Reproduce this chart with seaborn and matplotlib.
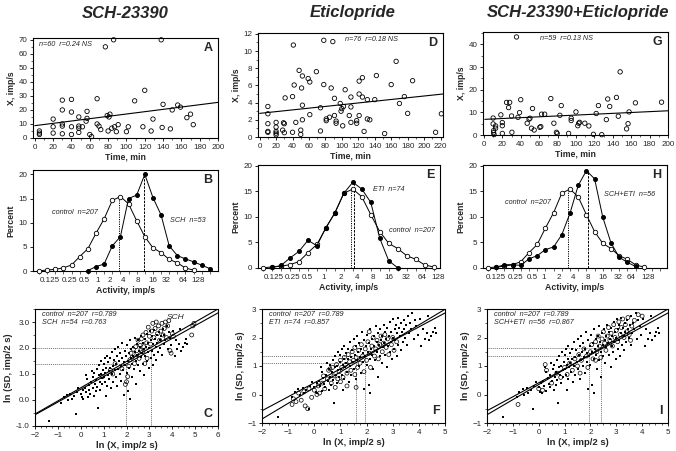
import numpy as np
import pandas as pd
import seaborn as sns
import matplotlib.pyplot as plt
from matplotlib.ticker import MultipleLocator, FixedLocator, FormatStrFormatter, NullFormatter
import matplotlib.transforms as mtrans

sns.set_theme(style="ticks")
plt.rcParams['font.family'] = ['Liberation Sans', 'DejaVu Sans']

# ---------------- row 1: firing rate vs time ----------------
time_A = [5, 5, 5, 20, 20, 20, 30, 30, 30, 30, 30, 40, 40, 40, 40, 48, 48, 48, 48, 52,
          56, 57, 57, 60, 62, 68, 68, 70, 72, 77, 79, 80, 81, 82, 84, 86, 87, 89, 91, 100,
          102, 109, 118, 120, 127, 129, 138, 139, 140, 148, 150, 156, 159, 166, 170, 173]
rate_A = [5, 3.5, 2.5, 13.5, 8, 3.5, 27, 20, 10, 8.5, 3, 27.5, 18.5, 8, 2.5, 15, 8.5, 7, 4, 8,
          12, 14, 19, 2.5, 1, 28, 10, 8.5, 6, 65, 16, 5, 15, 17, 7, 70, 8, 4.5, 9.5, 4.5,
          8, 26.5, 8, 34, 5, 13.5, 70, 7.5, 24, 6.5, 20, 23.5, 22, 14.5, 17, 9.5]
fit_A = (8.8, 0.083)

time_D = [10, 10, 10, 10, 10, 20, 20, 20, 20, 20, 28, 29, 30, 30, 31, 40, 40, 41, 42, 44,
          48, 50, 50, 51, 52, 52, 52, 59, 61, 61, 69, 74, 74, 78, 78, 81, 81, 85, 87, 89,
          91, 91, 93, 93, 98, 99, 100, 101, 102, 104, 109, 111, 111, 111, 118, 118, 121, 121, 121, 125,
          125, 127, 131, 131, 134, 140, 142, 152, 160, 166, 170, 176, 180, 186, 214, 221]
rate_D = [3.55, 2.7, 1.55, 0.65, 0.55, 1.7, 1.15, 0.65, 0.45, 0.25, 0.8, 1.65, 1.55, 0.5, 4.55, 0.55, 4.7, 10.7, 6.05, 1.7,
          7.75, 0.8, 0.3, 5.7, 2.0, 7.1, 3.7, 6.8, 6.4, 2.6, 7.6, 3.4, 0.7, 6.1, 11.25, 2.1, 1.9, 2.3, 5.7, 11.1,
          4.5, 2.5, 1.6, 1.85, 3.9, 3.0, 3.3, 1.3, 3.55, 5.5, 2.5, 4.65, 3.5, 1.7, 1.9, 1.6, 5.0, 2.5, 6.5, 4.65,
          6.9, 0.65, 4.35, 2.1, 2.0, 4.35, 7.15, 0.4, 6.1, 8.8, 3.9, 4.7, 2.75, 6.55, 0.55, 2.7]
fit_D = (2.75, 0.0101)

time_G = [10, 10, 10.5, 10.5, 11, 12.7, 12.7, 18.4, 20, 20, 20, 24.6, 26.8, 28, 30, 30.4, 35.4, 37, 38.7, 40,
          47, 49, 50, 51.7, 52.8, 54.6, 60.7, 61.8, 62.6, 66, 72.7, 76, 78.8, 79.6, 82.5, 84, 92, 94.8, 94.8, 100,
          102, 103, 104, 109.6, 114, 119, 122, 124.4, 128, 133, 134.5, 136.7, 144, 146, 148, 155, 156.6, 157.7, 164.6, 193]
rate_G = [7.5, 4.9, 1.9, 1.0, 0.2, 3.0, 4.0, 8.9, 5.5, 4.1, 0.7, 14.4, 12.1, 14.4, 8.4, 1.2, 43.3, 7.8, 9.9, 15.6,
          5.2, 7.0, 7.4, 3.0, 11.7, 2.2, 3.4, 3.7, 9.2, 9.2, 16.1, 5.2, 1.2, 0.7, 8.7, 13.0, 0.7, 7.4, 6.4, 10.2,
          4.1, 5.2, 5.6, 5.2, 4.0, 0.3, 9.5, 13.0, 0.15, 6.8, 15.9, 12.6, 16.6, 8.3, 27.9, 2.7, 5.0, 10.2, 14.2, 14.5]
fit_G = (6.9, 0.019)

# ---------------- row 2: activity distributions ----------------
# bin centres on a log2 (imp/s) axis
bins_log2 = [-3.74, -3.19, -2.64, -2.09, -1.54, -0.99, -0.44, 0.11, 0.66, 1.21, 1.76,
             2.31, 2.86, 3.41, 3.96, 4.51, 5.06, 5.61, 6.16, 6.71, 7.26, 7.81]
act_ticks = [-3, -2, -1, 0, 1, 2, 3, 4, 5, 6, 7]
act_labels = ['0.125', '0.25', '0.5', '1', '2', '4', '8', '16', '32', '64', '128']

control_pct = [0.05, 0.2, 0.35, 0.65, 1.25, 3.0, 4.6, 7.8, 10.8, 14.6,
               15.4, 13.9, 10.4, 7.1, 4.8, 3.8, 2.4, 1.7, 0.6, 0.2]
sch_first = 6
sch_pct = [0.1, 0.9, 1.45, 5.2, 7.1, 15.0, 15.7, 20.0, 15.2, 11.6, 5.2, 3.2, 2.5, 1.9, 1.2, 0.5]
eti_first = 1
eti_pct = [0.1, 0.5, 1.95, 3.25, 5.4, 4.35, 7.9, 10.7, 14.6, 16.75, 15.4, 12.8, 5.8, 1.4, 0.05]
se_first = 1
se_pct = [0.15, 0.65, 0.65, 0.5, 1.8, 2.4, 3.6, 4.1, 6.5, 10.7, 16.1, 19.0, 17.4, 9.9, 4.9, 2.1, 1.1, 0.3]

# median markers: (log2 position, height)
med_B = [(1.65, 15.3), (3.36, 20.0)]
med_E = [(1.62, 15.2), (1.82, 16.7)]
med_H = [(1.65, 15.2), (2.97, 19.0)]

# ---------------- row 3: ln SD vs ln X ----------------
ctrl_lnx = [-1.38, -0.85, -0.75, -0.62, -0.55, -0.45, -0.40, -0.30, -0.22, -0.18,
            -0.10, 0.00, 0.05, 0.10, 0.12, 0.18, 0.22, 0.25, 0.28, 0.30, 0.35, 0.38, 0.42, 0.45, 0.48,
            0.52, 0.55, 0.58, 0.60, 0.62, 0.65, 0.68, 0.70, 0.72, 0.75, 0.78, 0.80, 0.82, 0.85, 0.88, 0.90, 0.92, 0.95, 0.98,
            1.00, 1.02, 1.05, 1.05, 1.08, 1.10, 1.12, 1.15, 1.15, 1.18, 1.20, 1.22, 1.25, 1.28, 1.30, 1.32, 1.35, 1.38, 1.40, 1.42, 1.45, 1.48,
            1.50, 1.52, 1.55, 1.58, 1.60, 1.62, 1.65, 1.68, 1.70, 1.72, 1.75, 1.78, 1.80, 1.82, 1.85, 1.88, 1.90, 1.92, 1.95, 1.98,
            2.00, 2.02, 2.05, 2.08, 2.10, 2.12, 2.15, 2.15, 2.18, 2.20, 2.22, 2.25, 2.28, 2.30, 2.32, 2.35, 2.38, 2.40, 2.42, 2.45, 2.48,
            2.50, 2.52, 2.55, 2.58, 2.60, 2.62, 2.65, 2.68, 2.70, 2.72, 2.75, 2.78, 2.80, 2.82, 2.85, 2.88, 2.90, 2.92, 2.95, 2.98,
            3.00, 3.02, 3.05, 3.08, 3.10, 3.12, 3.15, 3.18, 3.20, 3.22, 3.25, 3.28, 3.30, 3.32, 3.35, 3.38, 3.42, 3.45, 3.48,
            3.52, 3.55, 3.58, 3.62, 3.65, 3.70, 3.75, 3.80, 3.85, 3.90, 3.95, 4.05, 4.10, 4.15, 4.22, 4.30, 4.35, 4.40, 4.48, 4.55, 4.62, 4.65]
ctrl_lnsd = [-0.80, -0.10, 0.10, 0.18, 0.00, 0.22, 0.05, 0.15, -0.52, 0.30,
             0.45, 0.25, 0.10, 0.40, 0.05, 0.48, 0.30, 0.95, 0.80, 0.12, 0.58, 0.38, 0.25, 0.70, 1.10,
             0.48, 0.90, 0.15, 1.05, 0.62, 0.35, 0.78, 1.20, 0.50, -0.30, 0.95, 1.35, 0.70, 0.40, 1.00, 1.50, 0.85, 0.60, 1.15,
             1.40, 0.90, 0.70, 1.60, 1.05, 0.15, 1.25, 0.55, 1.70, 0.95, 1.45, 1.10, 0.80, 1.60, 1.25, 0.45, 1.00, 1.85, 1.30, 0.70, 1.55, 1.15,
             1.95, 0.90, 1.40, 1.70, 0.55, 1.20, 2.05, 1.50, 1.00, 1.80, 1.30, 0.75, 1.60, 2.20, 1.15, 1.45, 0.20, 1.90, 1.35, 1.70,
             1.05, 2.10, 1.50, 0.35, 1.80, 1.25, 0.05, 2.30, 1.60, 1.95, 1.40, 0.90, 2.05, 1.70, 1.20, 2.40, 1.85, 1.50, 0.60, 2.15, 1.75,
             1.35, 2.30, 1.90, 1.10, 2.05, 1.65, 2.45, 1.80, 1.40, 2.20, 1.95, 0.95, 2.35, 1.70, 2.05, 1.50, 2.55, 1.85, 2.20, 1.25,
             2.00, 2.65, 1.60, 2.30, 1.90, 2.45, 1.35, 2.15, 2.70, 1.75, 2.35, 2.05, 1.55, 2.50, 2.20, 1.85, 2.60, 2.30, 2.00,
             2.45, 1.75, 2.75, 2.15, 2.50, 2.30, 2.85, 1.95, 2.60, 2.40, 2.10, 2.65, 1.70, 2.30, 1.95, 2.15, 2.75, 1.90, 2.05, 2.20, 2.35, 2.15]

sch_lnx = [1.95, 2.00, 2.05, 2.10, 2.15, 2.20, 2.25, 2.30, 2.35, 2.40, 2.45, 2.50, 2.55, 2.60, 2.62, 2.65, 2.70, 2.72,
           2.75, 2.80, 2.85, 2.88, 2.90, 2.95, 3.00, 3.05, 3.10, 3.15, 3.20, 3.25, 3.30, 3.35, 3.40, 3.45, 3.50, 3.55,
           3.60, 3.65, 3.70, 3.75, 3.80, 3.85, 3.90, 3.95, 4.00, 4.05, 4.85, 4.90, 4.95, 1.50, 1.40, 1.30, 1.80, 0.95]
sch_lnsd = [0.60, 0.70, 0.90, 1.30, 1.55, 1.80, 1.65, 1.95, 1.40, 2.05, 1.75, 2.30, 1.60, 2.10, 1.90, 2.35, 1.85, 2.50,
            2.05, 1.40, 2.60, 2.20, 1.60, 2.80, 2.45, 2.15, 2.65, 2.95, 2.40, 2.75, 3.00, 2.55, 2.85, 2.30, 2.65, 2.95,
            2.50, 2.75, 3.00, 2.40, 2.85, 3.05, 1.90, 1.80, 2.55, 2.45, 2.50, 2.85, 2.95, 1.40, 1.00, 1.15, 1.20, 0.90]

eti_lnx = [-0.85, -0.80, -0.70, -0.60, -0.50, -0.40, -0.35, -0.25, -0.20, -0.10, 0.00, 0.10, 0.15, 0.20, 0.30, 0.40,
           0.50, 0.55, 0.65, 0.70, 0.75, 0.80, 0.85, 0.90, 0.95, 1.00, 1.05, 1.10, 1.15, 1.20, 1.25, 1.30, 1.35, 1.40,
           1.45, 1.50, 1.55, 1.55, 1.60, 1.65, 1.70, 1.75, 1.80, 1.85, 1.90, 1.95, 2.00, 2.05, 2.10, 2.15, 2.20, 2.25,
           2.30, 2.35, 2.40, 2.45, 2.50, 2.55, 2.60, 2.65, 2.70, 2.75, 2.80, 2.85, 2.95, 3.00, 3.05, 3.15, 1.25, 1.60,
           0.60, 1.00, 0.35, 2.10]
eti_lnsd = [-0.35, -0.15, -0.25, 0.05, -0.20, 0.10, -0.40, -0.50, 0.20, -0.10, 0.15, 0.00, 0.30, 0.05, 0.40, 0.20,
            0.55, 0.85, 0.40, 0.95, 0.65, 0.25, 1.05, 0.55, 0.80, 1.20, 0.95, 0.60, 1.30, 1.05, 0.75, 1.40, 1.15, 0.85,
            1.50, 1.20, 0.70, 1.65, 1.30, 0.95, 1.55, 1.10, 1.75, 1.35, 0.80, 1.60, 1.20, 1.85, 1.45, 0.95, 1.70, 2.00,
            1.35, 1.60, 1.90, 1.25, 1.75, 2.05, 1.50, 1.80, 2.10, 1.65, 1.95, 1.40, 1.75, 2.00, 1.55, 1.85, 0.30, 0.25,
            0.90, 0.45, 0.65, 2.20]

se_lnx = [-0.80, 0.00, 0.15, 0.25, 0.30, 0.50, 0.70, 0.85, 1.00, 1.10, 1.20, 1.30, 1.40, 1.50, 1.55, 1.65, 1.75, 1.85,
          1.90, 2.00, 2.05, 2.10, 2.20, 2.25, 2.30, 2.35, 2.40, 2.45, 2.50, 2.55, 2.60, 2.65, 2.70, 2.75, 2.80, 2.85,
          2.90, 2.95, 3.00, 3.05, 3.10, 3.15, 3.20, 3.25, 3.30, 3.35, 3.40, 3.45, 3.50, 3.55, 3.60, 3.70, 3.85, 4.00,
          2.20, 1.60]
se_lnsd = [-0.35, 0.20, 0.15, 1.05, 0.85, 0.40, 0.75, 0.60, 0.95, 0.70, 1.10, 0.85, 1.25, 1.00, 1.40, 1.20, 1.60, 1.35,
           0.95, 1.50, 1.75, 1.25, 1.85, 1.50, 2.05, 1.70, 1.30, 1.95, 2.20, 1.80, 1.55, 2.05, 2.35, 1.90, 2.15, 1.70,
           2.45, 2.00, 2.25, 1.85, 2.55, 2.10, 2.35, 2.65, 2.00, 2.45, 2.20, 2.70, 2.10, 1.90, 2.40, 2.60, 2.80, 2.75,
           1.20, 0.75]

# regression lines (intercept, slope) and median ln X for each group
fit_ctrl = (0.41, 0.49)
fit_sch = (0.47, 0.505)
fit_eti = (0.24, 0.55)
fit_se = (0.35, 0.53)
med_ctrl_C, med_sch = 1.98, 3.05
med_ctrl_F, med_eti = 1.93, 1.59
med_ctrl_I, med_se = 1.95, 2.39

W, H = 676, 451
fig = plt.figure(figsize=(W / 100, H / 100), dpi=100)


def add_ax(l, t, r, b):
    ax = fig.add_axes([l / W, 1 - b / H, (r - l) / W, (b - t) / H])
    for s in ax.spines.values():
        s.set_linewidth(0.8)
        s.set_color('black')
    ax.tick_params(labelsize=5.8, length=2.5, width=0.6, pad=1.5, direction='out', color='black')
    ax.tick_params(which='minor', length=1.5, width=0.5)
    return ax


def tag(ax, x, y, s, ha='left', va='top', size=5.2):
    ax.text(x, y, s, transform=ax.transAxes, ha=ha, va=va, fontsize=size, style='italic')


def letter(ax, s, y=0.96, va='top'):
    ax.text(0.97, y, s, transform=ax.transAxes, ha='right', va=va, fontsize=9, fontweight='bold')


def time_panel(ax, t, r, fit, xlim, ylim, xmaj, ymaj, ymin, xticks_max, txt, tx, let):
    sns.scatterplot(x=t, y=r, ax=ax, marker='o', s=10, facecolors='none', edgecolor='black',
                    linewidth=0.6, clip_on=False, zorder=3)
    xs = [xlim[0] + 2, xlim[1]]
    sns.lineplot(x=xs, y=[fit[0] + fit[1] * v for v in xs], ax=ax, color='black', lw=0.8)
    ax.set_xlim(*xlim)
    ax.set_ylim(*ylim)
    ax.xaxis.set_major_locator(FixedLocator(list(range(0, xticks_max + 1, xmaj))))
    ax.xaxis.set_minor_locator(MultipleLocator(10))
    ax.yaxis.set_major_locator(MultipleLocator(ymaj))
    ax.yaxis.set_minor_locator(MultipleLocator(ymin))
    ax.set_xlabel('Time, min', fontsize=6.3, fontweight='bold', labelpad=1.5)
    ax.set_ylabel('X, imp/s', fontsize=6.3, fontweight='bold', labelpad=2)
    tag(ax, tx, 0.97, txt)
    letter(ax, let)


def hist_panel(ax, xlim, ylim, trt_first, trt_pct, meds, labels, let, shifts):
    sns.lineplot(x=bins_log2[:len(control_pct)], y=control_pct, ax=ax, color='black', lw=0.7,
                 marker='o', markersize=3.2, markerfacecolor='white', markeredgecolor='black',
                 markeredgewidth=0.6, clip_on=False, zorder=3)
    sns.lineplot(x=bins_log2[trt_first:trt_first + len(trt_pct)], y=trt_pct, ax=ax, color='black',
                 lw=0.7, marker='o', markersize=2.8, markerfacecolor='black', markeredgecolor='black',
                 clip_on=False, zorder=4)
    for (xm, hm), ls in zip(meds, [(0, (1.2, 1.2)), (0, (2.5, 1.2))]):
        ax.plot([xm, xm], [0, hm], color='black', lw=0.7, linestyle=ls, zorder=2)
    ax.set_xlim(*xlim)
    ax.set_ylim(*ylim)
    ax.set_xticks(act_ticks)
    ax.set_xticklabels(act_labels)
    ax.tick_params(axis='x', which='major', length=0, pad=4)
    ax.xaxis.set_minor_locator(FixedLocator(bins_log2))
    ax.tick_params(axis='x', which='minor', length=2.2, width=0.5)
    ax.yaxis.set_major_locator(MultipleLocator(5))
    ax.set_xlabel('Activity, imp/s', fontsize=6.3, fontweight='bold', labelpad=1.5)
    ax.set_ylabel('Percent', fontsize=6.3, fontweight='bold', labelpad=2)
    # nudge the crowded low-activity labels apart, as in the original
    for lab, dx in zip(ax.get_xticklabels(), shifts):
        if dx:
            lab.set_transform(lab.get_transform() + mtrans.ScaledTranslation(dx / 100, 0, fig.dpi_scale_trans))
    for x, y, s in labels:
        tag(ax, x, y, s, va='center')
    letter(ax, let)


def ln_panel(ax, xlim, ylim, trt_x, trt_y, fit_trt, med_c, med_t, lines_txt, let, fmt=None):
    sns.scatterplot(x=ctrl_lnx, y=ctrl_lnsd, ax=ax, marker='s', s=3, color='black', linewidth=0, zorder=3)
    sns.scatterplot(x=trt_x, y=trt_y, ax=ax, marker='o', s=8, facecolors='none', edgecolor='black',
                    linewidth=0.5, zorder=3)
    xs = list(xlim)
    for a, b in [fit_ctrl, fit_trt]:
        sns.lineplot(x=xs, y=[a + b * v for v in xs], ax=ax, color='black', lw=0.8, zorder=4)
    for xm, (a, b) in [(med_c, fit_ctrl), (med_t, fit_trt)]:
        ym = a + b * xm
        ax.plot([xlim[0], xm], [ym, ym], color='0.45', lw=0.7, linestyle=(0, (1, 1)), zorder=2)
        ax.plot([xm, xm], [ylim[0], ym], color='0.45', lw=0.7, linestyle=(0, (1, 1)), zorder=2)
    ax.set_xlim(*xlim)
    ax.set_ylim(*ylim)
    ax.xaxis.set_major_locator(MultipleLocator(1))
    ax.xaxis.set_minor_locator(MultipleLocator(0.25))
    ax.yaxis.set_major_locator(MultipleLocator(1))
    ax.yaxis.set_minor_locator(MultipleLocator(0.5))
    if fmt:
        ax.yaxis.set_major_formatter(FormatStrFormatter(fmt))
    ax.set_xlabel('ln (X, imp/2 s)', fontsize=6.8, fontweight='bold', labelpad=1.5)
    ax.set_ylabel('ln (SD, imp/2 s)', fontsize=6.8, fontweight='bold', labelpad=2)
    tag(ax, 0.04, 0.985, lines_txt[0])
    tag(ax, 0.04, 0.915, lines_txt[1])
    letter(ax, let, y=0.05, va='bottom')


# titles
for x, s in [(125, 'SCH-23390'), (353, 'Eticlopride'), (578, 'SCH-23390+Eticlopride')]:
    fig.text(x / W, 1 - 13 / H, s, ha='center', va='center', fontsize=12, fontweight='bold', style='italic')

axA = add_ax(33, 38, 218, 138)
time_panel(axA, time_A, rate_A, fit_A, (-2, 200), (0, 71.3), 20, 10, 5, 200, 'n=60  r=0.24 NS', 0.03, 'A')
axD = add_ax(258, 33, 443, 137)
time_panel(axD, time_D, rate_D, fit_D, (-2, 223), (0, 12.1), 20, 2, 1, 220, 'n=76  r=0.18 NS', 0.47, 'D')
axG = add_ax(483, 32, 668, 135)
time_panel(axG, time_G, rate_G, fit_G, (-1, 200), (0, 45.5), 20, 10, 5, 200, 'n=59  r=0.13 NS', 0.31, 'G')

axB = add_ax(33, 170, 218, 271)
hist_panel(axB, (-4.15, 8.36), (0, 20.9), sch_first, sch_pct, med_B,
           [(0.10, 0.58, 'control  n=207'), (0.74, 0.50, 'SCH  n=53')], 'B',
           [0, 5, 5, 3, 1, -1, -1, -1, -2, 0, 0])
axE = add_ax(258, 165, 440, 268)
hist_panel(axE, (-4.05, 7.1), (0, 20.1), eti_first, eti_pct, med_E,
           [(0.63, 0.76, 'ETI  n=74'), (0.72, 0.36, 'control  n=207')], 'E',
           [-1, 1, 0, 0, 0, 0, 0, 0, 0, 0, 0])
axH = add_ax(483, 165, 667, 268)
hist_panel(axH, (-4.08, 8.27), (0, 20.1), se_first, se_pct, med_H,
           [(0.12, 0.64, 'control  n=207'), (0.66, 0.71, 'SCH+ETI  n=56')], 'H',
           [-3, 2, 3, 0, 0, -1, -1, 0, 0, -2, 0])

axC = add_ax(35, 309, 218, 426)
ln_panel(axC, (-2, 6), (-1, 3.5), sch_lnx, sch_lnsd, fit_sch, med_ctrl_C, med_sch,
         ['control  n=207  r=0.789', 'SCH  n=54  r=0.763'], 'C', fmt='%.1f')
axC.text(0.72, 0.96, 'SCH', transform=axC.transAxes, fontsize=6, style='italic', va='top')
axF = add_ax(262, 309, 445, 423)
ln_panel(axF, (-2, 5), (-1, 3), eti_lnx, eti_lnsd, fit_eti, med_ctrl_F, med_eti,
         ['control  n=207  r=0.789', 'ETI  n=74  r=0.857'], 'F')
axI = add_ax(487, 309, 668, 423)
ln_panel(axI, (-2, 5), (-1, 3), se_lnx, se_lnsd, fit_se, med_ctrl_I, med_se,
         ['control  n=207  r=0.789', 'SCH+ETI  n=56  r=0.867'], 'I')

fig.savefig('out.png', dpi=100)
